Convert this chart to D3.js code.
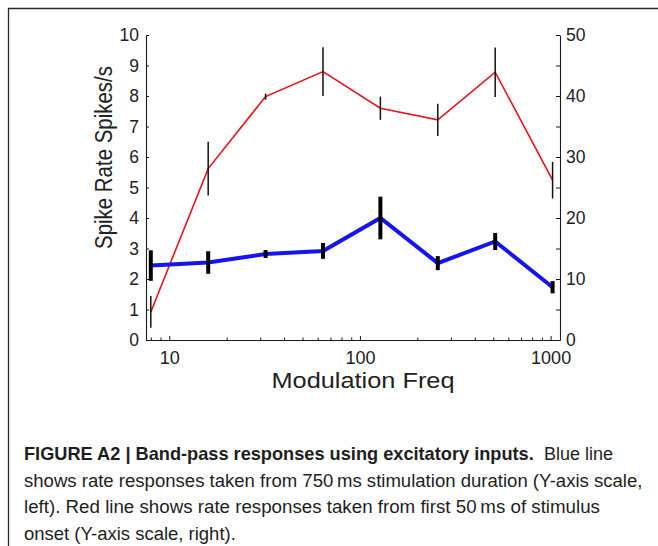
<!DOCTYPE html>
<html>
<head>
<meta charset="utf-8">
<script src="https://cdn.jsdelivr.net/npm/d3@7"></script>
<style>
  html, body { margin: 0; padding: 0; background: #fff; }
  svg { display: block; }
</style>
</head>
<body>
<svg id="chart" width="658" height="546"></svg>
<script>
// ---- data ----
const freqs = [8, 16, 32, 64, 128, 256, 512, 1024];
const blueMean = [2.44, 2.54, 2.82, 2.92, 4.0, 2.52, 3.23, 1.73];   // left axis, 750 ms
const blueErr  = [0.50, 0.37, 0.13, 0.26, 0.70, 0.23, 0.28, 0.20];
const redMean  = [4.6, 28.1, 39.9, 44.0, 38.0, 36.1, 43.9, 26.2];   // right axis, first 50 ms
const redErr   = [2.6, 4.4, 0.5, 4.0, 1.9, 2.65, 4.05, 3.0];
const leftTicks = [0,1,2,3,4,5,6,7,8,9,10];
const rightTicks = [0,5,10,15,20,25,30,35,40,45,50];
const xMajor = [10, 100, 1000];
const xMinor = [8,9,20,30,40,50,60,70,80,90,200,300,400,500,600,700,800,900];
const yLabel = "Spike Rate Spikes/s";
const xLabel = "Modulation Freq";
const captionBold = "FIGURE A2 | Band-pass responses using excitatory inputs.";
const captionLines = [
  "Blue line",
  "shows rate responses taken from 750\u2009ms stimulation duration (Y-axis scale,",
  "left). Red line shows rate responses taken from first 50\u2009ms of stimulus",
  "onset (Y-axis scale, right)."
];

// ---- layout ----
const svg = d3.select("#chart");
const L = 146, R = 560, T = 35, B = 340;
const x = d3.scaleLog().domain([7.55, 1120]).range([L, R]);
const yL = d3.scaleLinear().domain([0, 10]).range([B, T]);
const yR = d3.scaleLinear().domain([0, 50]).range([B, T]);
const font = "'Liberation Sans', Arial, Helvetica, sans-serif";

// frame
svg.append("path")
  .attr("d", `M8.5,546 L8.5,8.5 L658,8.5`)
  .attr("fill", "none").attr("stroke", "#2a2a2a").attr("stroke-width", 1.3);

function styleAxis(g, fs) {
  g.selectAll("path.domain").attr("stroke", "#1a1a1a").attr("stroke-width", 1.1);
  g.selectAll("line").attr("stroke", "#1a1a1a").attr("stroke-width", 1);
  g.selectAll("text").attr("font-family", font).attr("font-size", fs).attr("fill", "#222");
}

// left axis
const gL = svg.append("g").attr("transform", `translate(${L},0)`)
  .call(d3.axisLeft(yL).tickValues(leftTicks).tickSizeInner(-3).tickSizeOuter(0).tickPadding(7).tickFormat(d3.format("d")));
styleAxis(gL, 17.5);

// right axis
const gR = svg.append("g").attr("transform", `translate(${R},0)`)
  .call(d3.axisRight(yR).tickValues(rightTicks).tickSizeInner(-4).tickSizeOuter(0).tickPadding(6)
    .tickFormat(d => d % 10 === 0 ? d : ""));
styleAxis(gR, 17.5);

// bottom axis: major + minor
const gB = svg.append("g").attr("transform", `translate(0,${B})`)
  .call(d3.axisBottom(x).tickValues(xMajor).tickSizeInner(-4).tickSizeOuter(0).tickPadding(10).tickFormat(d3.format("d")));
styleAxis(gB, 18);
gB.selectAll("text").attr("dy", "0.75em");
const gBm = svg.append("g").attr("transform", `translate(0,${B})`)
  .call(d3.axisBottom(x).tickValues(xMinor).tickSizeInner(-2.5).tickSizeOuter(0).tickFormat(() => ""));
styleAxis(gBm, 18);
gBm.select("path.domain").remove();

// axis labels
svg.append("text")
  .attr("transform", `translate(112,${(T + B) / 2 - 30}) rotate(-90)`)
  .attr("text-anchor", "middle")
  .attr("font-family", font).attr("font-size", 23).attr("fill", "#222")
  .attr("textLength", 183).attr("lengthAdjust", "spacingAndGlyphs")
  .text(yLabel);
svg.append("text")
  .attr("x", 363).attr("y", 388)
  .attr("text-anchor", "middle")
  .attr("font-family", font).attr("font-size", 22.5).attr("fill", "#222")
  .attr("textLength", 183).attr("lengthAdjust", "spacingAndGlyphs")
  .text(xLabel);

// red line (right axis)
const redLine = d3.line().x((d, i) => x(freqs[i])).y(d => yR(d));
svg.append("path").datum(redMean)
  .attr("d", redLine).attr("fill", "none")
  .attr("stroke", "#e8141a").attr("stroke-width", 1.6).attr("stroke-linejoin", "miter");
svg.append("g").selectAll("line").data(redMean).join("line")
  .attr("x1", (d, i) => x(freqs[i])).attr("x2", (d, i) => x(freqs[i]))
  .attr("y1", (d, i) => yR(d - redErr[i])).attr("y2", (d, i) => yR(d + redErr[i]))
  .attr("stroke", "#111").attr("stroke-width", 1.5);

// blue line (left axis)
const blueLine = d3.line().x((d, i) => x(freqs[i])).y(d => yL(d));
svg.append("path").datum(blueMean)
  .attr("d", blueLine).attr("fill", "none")
  .attr("stroke", "#1414f0").attr("stroke-width", 4).attr("stroke-linejoin", "miter");
svg.append("g").selectAll("line").data(blueMean).join("line")
  .attr("x1", (d, i) => x(freqs[i])).attr("x2", (d, i) => x(freqs[i]))
  .attr("y1", (d, i) => yL(d - blueErr[i])).attr("y2", (d, i) => yL(d + blueErr[i]))
  .attr("stroke", "#000").attr("stroke-width", 4);

// caption: each piece fitted to its measured width
const capFont = "'Liberation Sans', Arial, Helvetica, sans-serif";
const capFs = 19;
const capX = 24;
const capY = [460, 487, 513, 540];
function fitText(str, xPos, yPos, target, bold) {
  const t = svg.append("text").attr("x", xPos).attr("y", yPos)
    .attr("font-family", capFont).attr("font-size", capFs)
    .attr("font-weight", bold ? "bold" : "normal").attr("fill", "#1e1e1e")
    .text(str);
  const natural = t.node().getComputedTextLength();
  if (natural > target) {
    t.attr("font-size", capFs * target / natural);
  } else {
    t.attr("textLength", target).attr("lengthAdjust", "spacingAndGlyphs");
  }
  return t;
}
fitText(captionBold, capX, capY[0], 510, true);
fitText(captionLines[0], 544, capY[0], 69, false);
fitText(captionLines[1], capX, capY[1], 619, false);
fitText(captionLines[2], capX, capY[2], 576, false);
fitText(captionLines[3], capX, capY[3], 212, false);
</script>
</body>
</html>
